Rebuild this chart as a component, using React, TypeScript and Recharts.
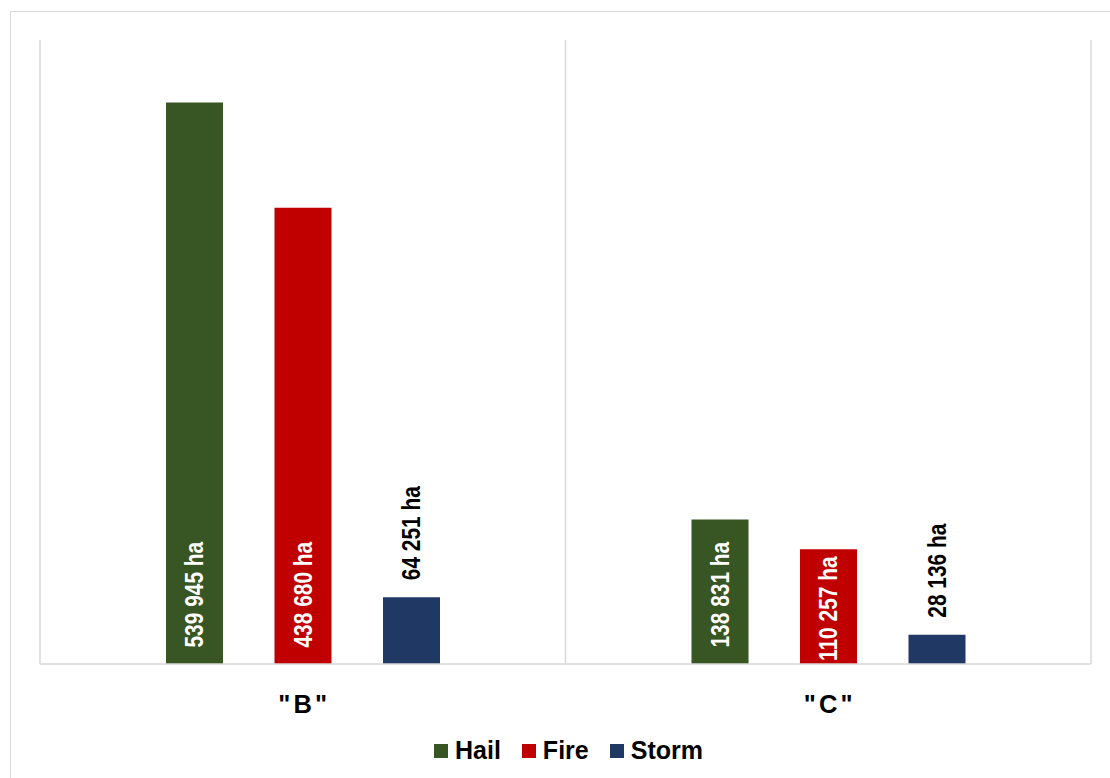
import { BarChart, Bar, XAxis, YAxis, CartesianGrid, LabelList } from 'recharts'

const CATEGORIES = ['" B "', '" C "']
const HAIL = [539945, 138831]
const FIRE = [438680, 110257]
const STORM = [64251, 28136]

const SERIES_NAMES = ['Hail', 'Fire', 'Storm']
const SERIES_COLORS = ['#375623', '#C00000', '#1F3864']
// labels sit inside the bar base for the tall series, above the bar for Storm
const LABEL_INSIDE = [true, true, false]

const Y_MAX = 600000

const data = CATEGORIES.map((name, i) => ({
  name,
  Hail: HAIL[i],
  Fire: FIRE[i],
  Storm: STORM[i],
}))

const FONT = '"Liberation Sans", Arial, sans-serif'
const LABEL_SIZE = 25.5
// no narrow face installed, so squeeze the regular one along the text direction
const NARROW_X = 0.82

function fmt(v: number) {
  return String(v).replace(/\B(?=(\d{3})+(?!\d))/g, ' ') + ' ha'
}

let ctx: CanvasRenderingContext2D | null = null
function measure(text: string) {
  if (!ctx) ctx = document.createElement('canvas').getContext('2d')
  if (!ctx) return text.length * 11
  ctx.font = `bold ${LABEL_SIZE}px ${FONT}`
  return ctx.measureText(text).width * NARROW_X
}

function makeLabel(inside: boolean) {
  return (props: any) => {
    const { x, y, width, height, value } = props
    const text = fmt(value)
    const cx = x + width / 2
    let start: number
    if (inside) {
      const len = measure(text)
      start = y + height - 16.5
      if (start - len < y + 7) start = y + 7 + len
    } else {
      start = y - 17
    }
    return (
      <text
        transform={`translate(${cx},${start}) rotate(-90) scale(${NARROW_X},1)`}
        textAnchor="start"
        dominantBaseline="central"
        fill={inside ? '#FFFFFF' : '#000000'}
        fontFamily={FONT}
        fontWeight="bold"
        fontSize={LABEL_SIZE}
      >
        {text}
      </text>
    )
  }
}

function CategoryTick({ x, y, payload }: any) {
  return (
    <text
      x={x}
      y={y + 41}
      textAnchor="middle"
      fill="#000"
      fontFamily={FONT}
      fontWeight="bold"
      fontSize={25.5}
      style={{ wordSpacing: -4 }}
    >
      {payload.value}
    </text>
  )
}

const gridX = ({ offset }: any) => [
  offset.left,
  offset.left + offset.width / 2,
  offset.left + offset.width,
]

export default function App() {
  return (
    <div
      style={{
        position: 'absolute',
        left: 0,
        top: 0,
        width: 1110,
        height: 778,
        overflow: 'hidden',
        background: '#fff',
        fontFamily: FONT,
      }}
    >
      <div
        style={{
          position: 'absolute',
          left: 10,
          top: 11,
          width: 1100,
          height: 767,
          borderTop: '1px solid #D9D9D9',
          borderLeft: '1px solid #D9D9D9',
          boxSizing: 'border-box',
        }}
      />
      <div style={{ position: 'absolute', left: 0, top: 0 }}>
        <BarChart
          width={1110}
          height={778}
          data={data}
          margin={{ top: 40, right: 19, left: 40, bottom: 54 }}
          barSize={57}
          barGap={51.5}
        >
          <CartesianGrid
            horizontal={false}
            stroke="#D9D9D9"
            strokeWidth={1.5}
            verticalCoordinatesGenerator={gridX}
          />
          <XAxis
            dataKey="name"
            height={60}
            axisLine={{ stroke: '#D9D9D9', strokeWidth: 1.5 }}
            tickLine={false}
            tick={<CategoryTick />}
            interval={0}
          />
          <YAxis hide domain={[0, Y_MAX]} />
          {SERIES_NAMES.map((s, i) => (
            <Bar key={s} dataKey={s} fill={SERIES_COLORS[i]} isAnimationActive={false}>
              <LabelList dataKey={s} content={makeLabel(LABEL_INSIDE[i])} />
            </Bar>
          ))}
        </BarChart>
      </div>
      <div
        style={{
          position: 'absolute',
          left: 434,
          top: 736,
          display: 'flex',
          alignItems: 'center',
          fontWeight: 'bold',
          fontSize: 25,
          color: '#000',
        }}
      >
        {SERIES_NAMES.map((s, i) => (
          <div key={s} style={{ display: 'flex', alignItems: 'center', marginRight: 21 }}>
            <span
              style={{
                display: 'inline-block',
                width: 14,
                height: 14,
                background: SERIES_COLORS[i],
                marginRight: 7,
              }}
            />
            <span>{s}</span>
          </div>
        ))}
      </div>
    </div>
  )
}
